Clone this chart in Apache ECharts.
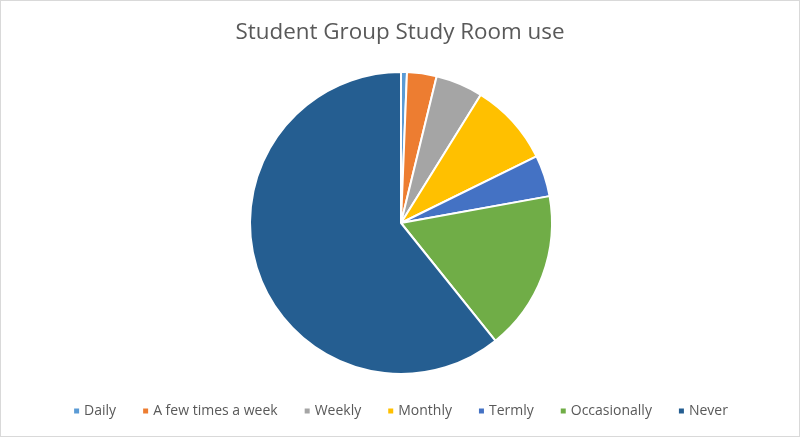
<!DOCTYPE html>
<html>
<head>
<meta charset="utf-8">
<script src="https://cdn.jsdelivr.net/npm/echarts@6/dist/echarts.min.js"></script>
<style>
  html, body { margin: 0; padding: 0; background: #fff; }
  #chart { width: 798px; height: 435px; border: 1px solid #d9d9d9; }
</style>
</head>
<body>
<div id="chart"></div>
<script>
// survey answers (counts)
const _CATEGORIES = ['Daily', 'A few times a week', 'Weekly', 'Monthly', 'Termly', 'Occasionally', 'Never'];
const _VALUES = [1, 5, 8, 14, 7, 27, 96];
const _COLORS = ['#5b9bd5', '#ed7d31', '#a5a5a5', '#ffc000', '#4472c4', '#70ad47', '#255e91'];

var myChart = echarts.init(document.getElementById('chart'));

myChart.setOption({
  animation: false,
  color: _COLORS,
  title: {
    text: 'Student Group Study Room use',
    left: 'center',
    top: 16,
    textStyle: {
      color: '#595959',
      fontFamily: 'Open Sans',
      fontSize: 22.4,
      fontWeight: 'normal'
    }
  },
  legend: {
    bottom: 13,
    left: 'center',
    itemWidth: 7,
    itemHeight: 7,
    itemGap: 25,
    icon: 'rect',
    textStyle: {
      color: '#595959',
      fontFamily: 'Open Sans',
      fontSize: 14,
      padding: [0, 0, 0, -1]
    },
    data: _CATEGORIES
  },
  series: [
    {
      name: 'use',
      type: 'pie',
      center: [400, 222],
      radius: 151,
      startAngle: 90,
      clockwise: true,
      label: { show: false },
      labelLine: { show: false },
      itemStyle: {
        borderColor: '#fff',
        borderWidth: 2
      },
      data: _CATEGORIES.map(function (name, i) {
        return { name: name, value: _VALUES[i] };
      })
    }
  ]
});
</script>
</body>
</html>
